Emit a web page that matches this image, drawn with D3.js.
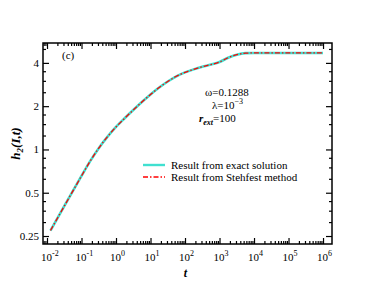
<!DOCTYPE html>
<html>
<head>
<meta charset="utf-8">
<script src="https://cdn.jsdelivr.net/npm/d3@7"></script>
<style>
  body { margin: 0; background: #fff; }
  svg { display: block; font-family: "Liberation Serif", "Times New Roman", serif; }
</style>
</head>
<body>
<svg id="chart" width="374" height="289"></svg>
<script>
// Data
const tVals      = [0.0126, 0.0316, 0.1, 0.178, 0.316, 0.562, 1, 1.78, 3.16, 5.62, 10, 17.8, 31.6, 56.2, 100, 178, 316, 562, 1000, 1780, 3160, 5620, 10000, 1e5, 1e6];
const hExact     = [0.273, 0.403, 0.654, 0.829, 1.021, 1.223, 1.434, 1.647, 1.879, 2.136, 2.411, 2.694, 2.969, 3.227, 3.434, 3.605, 3.758, 3.891, 4.056, 4.347, 4.563, 4.675, 4.691, 4.691, 4.691];
const hStehfest  = [0.273, 0.403, 0.654, 0.829, 1.021, 1.223, 1.434, 1.647, 1.879, 2.136, 2.411, 2.694, 2.969, 3.227, 3.434, 3.605, 3.758, 3.891, 4.056, 4.347, 4.563, 4.675, 4.691, 4.691, 4.691];

const xExponents = [-2, -1, 0, 1, 2, 3, 4, 5, 6];
const yTickVals  = [0.25, 0.5, 1, 2, 4];
const yTickLabels = ["0.25", "0.5", "1", "2", "4"];
const legendNames = ["Result from exact solution", "Result from Stehfest method"];

const EXACT_COLOR = "#40e0d0";
const STEH_COLOR = "#ff0000";

const svg = d3.select("#chart");
const pLeft = 43, pRight = 332, pTop = 43, pBottom = 244;

const x = d3.scaleLog().domain([Math.pow(10, -2.116), Math.pow(10, 6.26)]).range([pLeft, pRight]);
const y = d3.scaleLog().base(2).domain([0.22, 5.5]).range([pBottom, pTop]);

// minor tick values
const xMinor = [];
for (let e = -3; e <= 6; e++) for (let m = 2; m <= 9; m++) {
  const v = m * Math.pow(10, e);
  if (v > x.domain()[0] && v < x.domain()[1]) xMinor.push(v);
}
const yMinor = [];
[0.125, 0.25, 0.5, 1, 2, 4].forEach(b => [1.25, 1.5, 1.75].forEach(f => {
  const v = b * f;
  if (v > y.domain()[0] && v < y.domain()[1]) yMinor.push(v);
}));
const xMajor = xExponents.map(e => Math.pow(10, e));

// ticks on all four sides, pointing inward
function tickGroup(axisFn, scale, vals, len, transform) {
  svg.append("g").attr("transform", transform)
    .call(axisFn(scale).tickValues(vals).tickSize(-len).tickFormat(""))
    .call(g => g.select(".domain").remove())
    .call(g => g.selectAll("line").attr("stroke", "#000").attr("stroke-width", 1.2));
}
tickGroup(d3.axisBottom, x, xMajor, 6, `translate(0,${pBottom})`);
tickGroup(d3.axisBottom, x, xMinor, 3, `translate(0,${pBottom})`);
tickGroup(d3.axisTop, x, xMajor, 6, `translate(0,${pTop})`);
tickGroup(d3.axisTop, x, xMinor, 3, `translate(0,${pTop})`);
tickGroup(d3.axisLeft, y, yTickVals, 6, `translate(${pLeft},0)`);
tickGroup(d3.axisLeft, y, yMinor, 3, `translate(${pLeft},0)`);
tickGroup(d3.axisRight, y, yTickVals, 6, `translate(${pRight},0)`);
tickGroup(d3.axisRight, y, yMinor, 3, `translate(${pRight},0)`);

// frame
svg.append("rect").attr("x", pLeft).attr("y", pTop)
  .attr("width", pRight - pLeft).attr("height", pBottom - pTop)
  .attr("fill", "none").attr("stroke", "#000").attr("stroke-width", 1.5);

// x tick labels 10^n
xExponents.forEach(e => {
  const t = svg.append("text").attr("x", x(Math.pow(10, e)) - 6).attr("y", pBottom + 17)
    .attr("font-size", 11).attr("fill", "#000");
  t.append("tspan").text("10");
  t.append("tspan").attr("dy", -5).attr("font-size", 8).text(e);
});

// y tick labels
svg.selectAll(".ylab").data(yTickVals).enter().append("text")
  .attr("x", pLeft - 4).attr("y", d => y(d) + 4)
  .attr("text-anchor", "end").attr("font-size", 11).attr("fill", "#000")
  .text((d, i) => yTickLabels[i]);

// axis titles
svg.append("text").attr("x", (pLeft + pRight) / 2 - 2).attr("y", 277)
  .attr("text-anchor", "middle").attr("font-size", 12)
  .attr("font-weight", "bold").attr("font-style", "italic").text("t");

const yt = svg.append("text").attr("transform", `translate(20,${(pTop + pBottom) / 2}) rotate(-90)`)
  .attr("text-anchor", "middle").attr("font-size", 13)
  .attr("font-weight", "bold").attr("font-style", "italic");
yt.append("tspan").text("h");
yt.append("tspan").attr("dy", 3).attr("font-size", 9).text("2");
yt.append("tspan").attr("dy", -3).text("(I,t)");

// curves
const line = d3.line().x(d => x(d[0])).y(d => y(d[1])).curve(d3.curveMonotoneX);
svg.append("path").datum(tVals.map((t, i) => [t, hExact[i]]))
  .attr("d", line).attr("fill", "none").attr("stroke", EXACT_COLOR).attr("stroke-width", 2.6);
svg.append("path").datum(tVals.map((t, i) => [t, hStehfest[i]]))
  .attr("d", line).attr("fill", "none").attr("stroke", STEH_COLOR).attr("stroke-width", 1.3)
  .attr("stroke-dasharray", "5,2,1.5,2");

// panel label
svg.append("text").attr("x", 62).attr("y", 59).attr("font-size", 11).text("(c)");

// parameters
svg.append("text").attr("x", 205).attr("y", 96).attr("font-size", 11).text("ω=0.1288");
const lam = svg.append("text").attr("x", 212).attr("y", 109).attr("font-size", 11);
lam.append("tspan").text("λ=10");
lam.append("tspan").attr("dy", -5).attr("font-size", 8).text("−3");
const rx = svg.append("text").attr("x", 199).attr("y", 122).attr("font-size", 11);
rx.append("tspan").attr("font-weight", "bold").attr("font-style", "italic").text("r");
rx.append("tspan").attr("dy", 3).attr("font-size", 8).attr("font-weight", "bold").attr("font-style", "italic").text("ext");
rx.append("tspan").attr("dy", -3).text("=100");

// legend
const legend = svg.append("g");
legendNames.forEach((name, i) => {
  const ly = 165 + i * 12;
  legend.append("line").attr("x1", 143).attr("x2", 165).attr("y1", ly).attr("y2", ly)
    .attr("stroke", i === 0 ? EXACT_COLOR : STEH_COLOR)
    .attr("stroke-width", i === 0 ? 2.4 : 1.3)
    .attr("stroke-dasharray", i === 0 ? null : "5,2,1.5,2");
  legend.append("text").attr("x", 171).attr("y", ly + 4).attr("font-size", 11).text(name);
});
</script>
</body>
</html>
